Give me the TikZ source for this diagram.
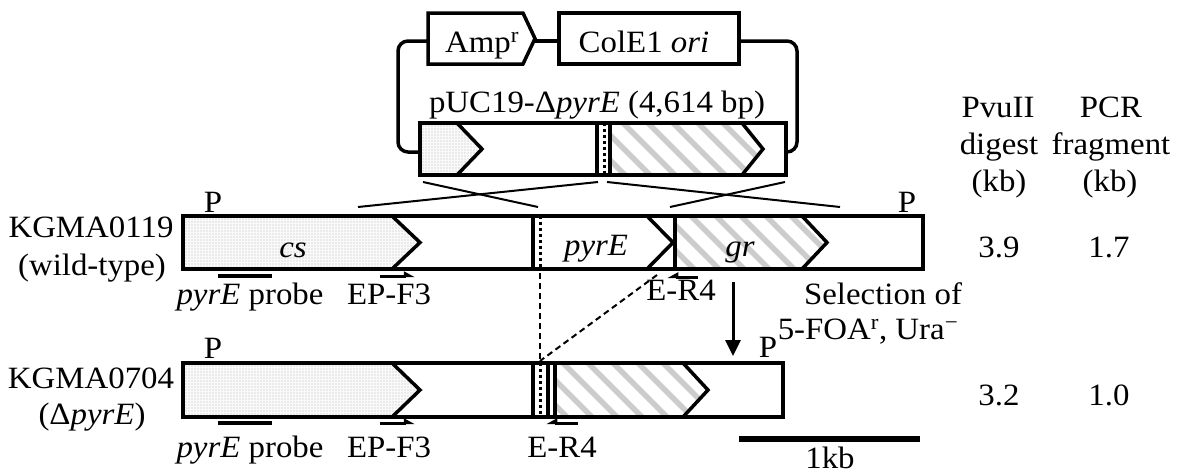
\documentclass[tikz,border=0pt]{standalone}
\usepackage{fontspec}
\setmainfont[FakeStretch=1.06]{Liberation Serif}
\usetikzlibrary{patterns,patterns.meta,arrows.meta}
\newcommand{\hatchpoly}[1]{%
  \begin{scope}
    \clip #1;
    \foreach \hx in {-100,-75,...,1000} {
      \draw[gray!40, line width=5.5pt] (\hx,100) -- ++(340,340);
    }
  \end{scope}}
\begin{document}
\begin{tikzpicture}[x=1pt,y=-1pt,
  lbl/.style={font=\fontsize{31}{34}\selectfont, inner sep=0pt, anchor=base},
  outl/.style={line width=3.5pt, line join=miter},
  dotfill/.style={preaction={fill=gray!4}, pattern={Dots[distance=3pt,radius=0.6pt]}, pattern color=gray!55},
  thinln/.style={line width=2pt},
  dsh/.style={line width=2pt, dash pattern=on 6pt off 4pt},
  dotln/.style={line width=3pt, dash pattern=on 3pt off 3pt},
  primer/.style={line width=3pt, -{Triangle[harpoon,length=9pt,width=9pt]}},
  primerL/.style={line width=3pt, -{Triangle[harpoon,swap,length=9pt,width=9pt]}},
  bar/.style={line width=4pt},
  boxnode/.style={rectangle, inner sep=0pt, outer sep=0pt},
]
\useasboundingbox (0,0) rectangle (1180,474);

% ---------- box nodes (outlines drawn later) ----------
\node[boxnode, minimum width=366pt, minimum height=52pt] (pl) at (603,149) {};
\node[boxnode, minimum width=740pt, minimum height=53pt] (wt) at (553,242.5) {};
\node[boxnode, minimum width=600pt, minimum height=54pt] (dp) at (483,390) {};
\node[boxnode, draw, outl, minimum width=180pt, minimum height=51pt] (ori) at (649,38.5) {};
\node[lbl] (oritxt) at (644,52) {ColE1 \textit{ori}};

% ---------- Amp^r gene ----------
\draw[outl] (428,13) -- (523,13) -- (535,38.5) -- (523,64) -- (428,64) -- cycle;
\coordinate (ampL) at (428,41);
\coordinate (ampR) at (535,41);
\node[lbl] (amptxt) at (482,52) {Amp\textsuperscript{r}};

% ---------- plasmid backbone ----------
\draw[outl, rounded corners=10pt] (ampL) -- (398,41) -- (398,152) -- (pl.west |- 0,152);
\draw[outl] (ampR) -- (ori.west |- 0,41);
\draw[outl, rounded corners=10pt] (ori.east |- 0,41) -- (797,41) -- (797,152) -- (pl.east |- 0,152);
\node[lbl] (pltxt) at (597,112) {pUC19-Δ\textit{pyrE} (4,614 bp)};

% ---------- plasmid insert ----------
\path[dotfill] (420,123) -- (457,123) -- (482,149) -- (457,175) -- (420,175) -- cycle;
\hatchpoly{(610,123) -- (742,123) -- (763,149) -- (742,175) -- (610,175) -- cycle}
\draw[outl] (457,123) -- (482,149) -- (457,175);
\draw[outl] (742,123) -- (763,149) -- (742,175);
\draw[outl] (597,123) -- (597,175);
\draw[dotln] (604,123) -- (604,175);
\draw[outl] (610,123) -- (610,175);
\draw[outl] (pl.north west) rectangle (pl.south east);

% ---------- crossover lines ----------
\coordinate (xa1) at (423,182); \coordinate (xa2) at (538,207);
\coordinate (xb1) at (598,182); \coordinate (xb2) at (358,207);
\coordinate (xc1) at (607,182); \coordinate (xc2) at (840,207);
\coordinate (xd1) at (785,182); \coordinate (xd2) at (670,207);
\draw[thinln] (xa1) -- (xa2);
\draw[thinln] (xb1) -- (xb2);
\draw[thinln] (xc1) -- (xc2);
\draw[thinln] (xd1) -- (xd2);

% ---------- wild-type locus ----------
\path[dotfill] (183,216) -- (392,216) -- (420,242.5) -- (392,269) -- (183,269) -- cycle;
\hatchpoly{(675,216) -- (802,216) -- (827,242.5) -- (802,269) -- (675,269) -- cycle}
\draw[outl] (392,216) -- (420,242.5) -- (392,269);
\draw[outl] (533,216) -- (533,269);
\draw[dotln] (540,216) -- (540,269);
\draw[outl] (647,216) -- (673,242.5) -- (647,269);
\draw[outl] (675,216) -- (675,269);
\draw[outl] (802,216) -- (827,242.5) -- (802,269);
\draw[outl] (wt.north west) rectangle (wt.south east);
\node[lbl] (cs) at (293,257) {\textit{cs}};
\node[lbl] (pyrE) at (596,255) {\textit{pyrE}};
\node[lbl] (gr) at (740,256) {\textit{gr}};
\node[lbl] (P1) at (213,212) {P};
\node[lbl] (P2) at (907,212) {P};

\node[lbl] (wtname) at (91,237) {KGMA0119};
\node[lbl] (wtsub) at (92,275) {(wild-type)};

% primers / probe (wild-type)
\coordinate (pr1a) at (218,276); \coordinate (pr1b) at (272,276);
\draw[bar] (pr1a) -- (pr1b);
\coordinate (f1a) at (380,276); \coordinate (f1b) at (415,276);
\draw[primer] (f1a) -- (f1b);
\coordinate (r1a) at (698,277); \coordinate (r1b) at (667,277);
\draw[primerL] (r1a) -- (r1b);
\node[lbl] (probe1) at (250,304) {\textit{pyrE} probe};
\node[lbl] (ep1) at (389,304) {EP-F3};
\node[lbl] (er1) at (681,300) {E-R4};

% ---------- dashed deletion lines ----------
\coordinate (d1) at (540,273); \coordinate (d2) at (657,275);
\coordinate (d3) at (540,361);
\draw[dsh] (d1) -- (d3);
\draw[dsh] (d2) -- (d3);

% ---------- selection arrow ----------
\coordinate (sa1) at (733,282); \coordinate (sa2) at (733,356);
\draw[line width=3pt, -{Triangle[length=16pt,width=15pt]}] (sa1) -- (sa2);
\node[lbl] (sel1) at (883,304) {Selection of};
\node[lbl] (sel2) at (868,339) {5-FOA\textsuperscript{r}, Ura\textsuperscript{−}};

% ---------- delta pyrE locus ----------
\path[dotfill] (183,363) -- (392,363) -- (420,390) -- (392,417) -- (183,417) -- cycle;
\hatchpoly{(555,363) -- (683,363) -- (708,390) -- (683,417) -- (555,417) -- cycle}
\draw[outl] (392,363) -- (420,390) -- (392,417);
\draw[outl] (533,363) -- (533,417);
\draw[dotln] (540,363) -- (540,417);
\draw[outl] (548,363) -- (548,417);
\draw[outl] (555,363) -- (555,417);
\draw[outl] (683,363) -- (708,390) -- (683,417);
\draw[outl] (dp.north west) rectangle (dp.south east);
\node[lbl] (P3) at (213,358) {P};
\node[lbl] (P4) at (768,357) {P};

\node[lbl] (dpname) at (91,388) {KGMA0704};
\node[lbl] (dpsub) at (92,424) {(Δ\textit{pyrE})};

\coordinate (pr2a) at (218,423); \coordinate (pr2b) at (272,423);
\draw[bar] (pr2a) -- (pr2b);
\coordinate (f2a) at (380,423); \coordinate (f2b) at (415,423);
\draw[primer] (f2a) -- (f2b);
\coordinate (r2a) at (578,423); \coordinate (r2b) at (546,423);
\draw[primerL] (r2a) -- (r2b);
\node[lbl] (probe2) at (250,457) {\textit{pyrE} probe};
\node[lbl] (ep2) at (389,457) {EP-F3};
\node[lbl] (er2) at (562,457) {E-R4};

% ---------- scale bar ----------
\coordinate (sb1) at (739,439); \coordinate (sb2) at (920,439);
\draw[line width=6pt] (sb1) -- (sb2);
\node[lbl] (kb) at (830,468) {1kb};

% ---------- table ----------
\node[lbl] (h1a) at (998,117) {PvuII};
\node[lbl] (h1b) at (999,154) {digest};
\node[lbl] (h1c) at (999,191) {(kb)};
\node[lbl] (h2a) at (1111,117) {PCR};
\node[lbl] (h2b) at (1111,154) {fragment};
\node[lbl] (h2c) at (1110,191) {(kb)};
\node[lbl] (v1) at (999,257) {3.9};
\node[lbl] (v2) at (1109,257) {1.7};
\node[lbl] (v3) at (999,405) {3.2};
\node[lbl] (v4) at (1109,405) {1.0};
\end{tikzpicture}
\end{document}
